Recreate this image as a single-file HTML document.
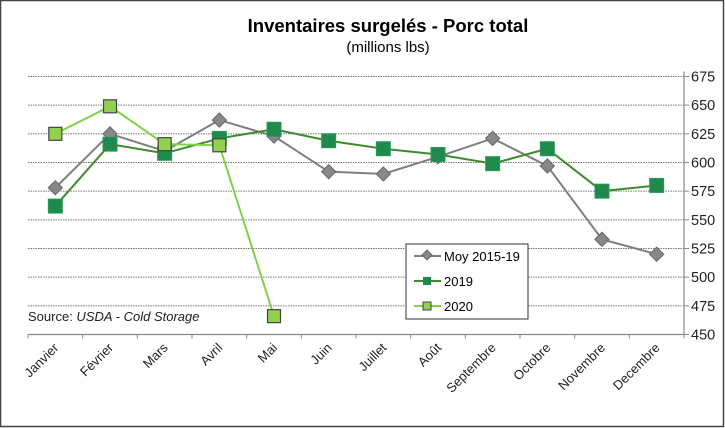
<!DOCTYPE html>
<html><head><meta charset="utf-8"><style>
html,body{margin:0;padding:0;background:#fff}
svg{display:block;font-family:"Liberation Sans",Arial,sans-serif}
</style></head><body>
<svg id="chart" width="725" height="428" viewBox="0 0 725 428">
<rect x="0.5" y="0.5" width="723" height="426" fill="#fff" stroke="#444" stroke-width="1.5"/>
<text x="388" y="32" text-anchor="middle" font-size="18.5" font-weight="bold" fill="#000">Inventaires surgelés - Porc total</text>
<text x="388" y="52" text-anchor="middle" font-size="15" fill="#000">(millions lbs)</text>
<g id="grid"></g>
<g id="axes"></g>
<g id="series"></g>
<text x="28" y="321" font-size="13" fill="#222">Source: <tspan font-style="italic">USDA - Cold Storage</tspan></text>
<g>
<rect x="406" y="244" width="122" height="75" fill="#fff" stroke="#333" stroke-width="1"/>
<g>
<line x1="414" y1="256" x2="441" y2="256" stroke="#7f7f7f" stroke-width="2"/>
<rect x="423.5" y="251.5" width="7" height="7" fill="#888" stroke="#666" transform="rotate(45 427 255)"/>
<text x="444" y="261" font-size="13">Moy 2015-19</text></g>
<g>
<line x1="414" y1="281" x2="441" y2="281" stroke="#3f8a2c" stroke-width="2"/>
<rect x="423" y="277" width="8" height="8" fill="#1f8a4c"/>
<text x="444" y="286" font-size="13">2019</text></g>
<g>
<line x1="414" y1="306" x2="441" y2="306" stroke="#7fd14a" stroke-width="2"/>
<rect x="423" y="302" width="8" height="8" fill="#92d050" stroke="#444"/>
<text x="444" y="311" font-size="13">2020</text></g>
</g>
</svg>
<script>
const categories=["Janvier","Février","Mars","Avril","Mai","Juin","Juillet","Août","Septembre","Octobre","Novembre","Decembre"];
const moy=[578,625,610,637,623,592,590,605,621,597,533,520];
const y2019=[562,616,608,621,629,619,612,607,599,612,575,580];
const y2020=[625,649,616,615,466];
const yTicks=[450,475,500,525,550,575,600,625,650,675];
const NS="http://www.w3.org/2000/svg";
const X0=28,X1=684,Y0=334.5,Y1=76.5,VMIN=450,VMAX=675;
const bw=(X1-X0)/categories.length;
function xs(i){return X0+bw*(i+0.5);}
function ys(v){return Y0-(v-VMIN)/(VMAX-VMIN)*(Y0-Y1);}
function mk(tag,attrs,parent){const e=document.createElementNS(NS,tag);for(const k in attrs)e.setAttribute(k,attrs[k]);parent.appendChild(e);return e;}
const grid=document.getElementById('grid'),axes=document.getElementById('axes'),ser=document.getElementById('series');
yTicks.forEach(t=>{
 if(t>VMIN){const l=mk('line',{x1:X0,x2:X1,y1:ys(t),y2:ys(t),stroke:'#777','stroke-width':1,'stroke-dasharray':'1.5 1'},grid);
 
 }
 mk('line',{x1:X1,x2:X1+5,y1:ys(t),y2:ys(t),stroke:'#888'},axes);
 const tx=mk('text',{x:X1+7,y:ys(t)+5,'font-size':14.5,fill:'#222'},axes);tx.textContent=t;
 
 
});
const ya=mk('line',{x1:X1,x2:X1,y1:Y1-5,y2:Y0,stroke:'#888','stroke-width':1.2},axes);


const xa=mk('line',{x1:X0,x2:X1,y1:Y0,y2:Y0,stroke:'#888','stroke-width':1.2},axes);


for(let i=0;i<=categories.length;i++)mk('line',{x1:X0+bw*i,x2:X0+bw*i,y1:Y0,y2:Y0+4,stroke:'#888'},axes);
categories.forEach((c,i)=>{
 const x=xs(i)+4,y=Y0+14;
 const t=mk('text',{x:x,y:y,'font-size':13,'text-anchor':'end',fill:'#222',transform:`rotate(-45 ${x} ${y})`},axes);t.textContent=c;
 
 
});
function line(vals,color,name){
 const p=mk('polyline',{points:vals.map((v,i)=>xs(i)+','+ys(v)).join(' '),fill:'none',stroke:color,'stroke-width':2},ser);
 
 
}
line(moy,'#7f7f7f','line-moy');
line(y2019,'#3f8a2c','line-2019');
line(y2020,'#7fd14a','line-2020');
moy.forEach((v,i)=>{const x=xs(i),y=ys(v);
 const r=mk('rect',{x:x-5,y:y-5,width:10,height:10,fill:'#888',stroke:'#666',transform:`rotate(45 ${x} ${y})`},ser);
 
 });
y2019.forEach((v,i)=>{const x=xs(i),y=ys(v);
 const r=mk('rect',{x:x-7,y:y-7,width:14,height:14,fill:'#1f8a4c',stroke:'#2a9a58'},ser);
 
 });
y2020.forEach((v,i)=>{const x=xs(i),y=ys(v);
 const r=mk('rect',{x:x-6.5,y:y-6.5,width:13,height:13,fill:'#92d050',stroke:'#444','stroke-width':1.2},ser);
 
 });
</script>
</body></html>
